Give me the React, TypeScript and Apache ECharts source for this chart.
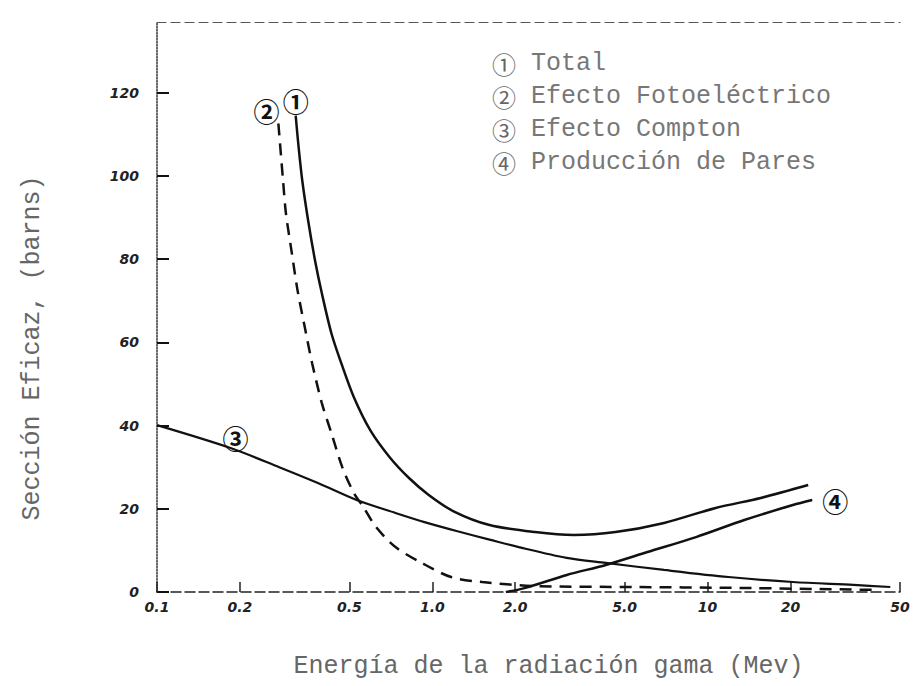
import React, { useEffect, useRef } from "react";
import * as echarts from "echarts";

// ---- Data ----
const energyTicks = [0.1, 0.2, 0.5, 1, 2, 5, 10, 20, 50];
const energyTickLabels = ["0.1", "0.2", "0.5", "1.0", "2.0", "5.0", "10", "20", "50"];
const sectionTicks = [0, 20, 40, 60, 80, 100, 120];

const seriesNames = ["Total", "Efecto Fotoeléctrico", "Efecto Compton", "Producción de Pares"];
const seriesMarks = ["①", "②", "③", "④"];

// (1) Total
const totalE = [0.319, 0.327, 0.337, 0.354, 0.375, 0.397, 0.43, 0.467, 0.519, 0.595, 0.7, 0.823, 0.968, 1.195, 1.614, 2.36, 3.27, 4.63, 6.95, 10.7, 15.6, 23.2];
const totalV = [114.5, 106.8, 98.9, 89.3, 79.7, 71.8, 62.2, 55.0, 46.8, 38.9, 32.4, 27.4, 23.4, 19.4, 16.1, 14.4, 13.7, 14.4, 16.6, 20.2, 22.6, 25.7];

// (2) Efecto Fotoeléctrico
const photoE = [0.276, 0.287, 0.294, 0.309, 0.324, 0.346, 0.366, 0.397, 0.43, 0.471, 0.519, 0.562, 0.625, 0.735, 0.915, 1.17, 1.52, 2.42, 5.44, 12.2, 41];
const photoV = [112.6, 98.9, 91.0, 81.4, 72.5, 62.9, 55.0, 45.4, 38.2, 30.0, 23.8, 20.4, 15.6, 10.8, 7.0, 3.6, 2.4, 1.4, 1.2, 1.0, 0.5];

// (3) Efecto Compton
const comptonE = [0.1, 0.185, 0.278, 0.384, 0.531, 0.735, 0.937, 1.235, 1.614, 2.06, 3.08, 4.27, 6.95, 11.9, 20.4, 33.9, 46.1];
const comptonV = [40.1, 34.6, 30.0, 26.2, 22.1, 19.0, 16.8, 14.6, 12.6, 10.8, 8.2, 7.0, 5.3, 3.6, 2.4, 1.7, 1.2];

// (4) Producción de Pares
const pairE = [1.85, 2.18, 3.08, 4.27, 6.05, 9.08, 13.6, 20.4, 24.0];
const pairV = [0, 1.0, 4.1, 6.5, 9.6, 13.2, 17.3, 20.9, 22.1];

const MONO = "'Liberation Mono', 'DejaVu Sans Mono', monospace";
const CIRC = "'Noto Sans CJK JP', 'DejaVu Sans', sans-serif";

function buildData(E: number[], V: number[], labelIndex: number, label: any) {
  return E.map((e, i) =>
    i === labelIndex
      ? { value: [e, V[i]], label: { show: true, ...label } }
      : { value: [e, V[i]] }
  );
}

const markLabel = (text: string, extra: any) => ({
  formatter: text,
  fontFamily: CIRC,
  fontSize: 26,
  fontWeight: "bold",
  color: "#111",
  ...extra,
});

export default function App() {
  const ref = useRef<HTMLDivElement>(null);

  useEffect(() => {
    if (!ref.current) return;
    const chart = echarts.init(ref.current, null, { renderer: "svg" });

    const tickLabel = (v: number) => {
      const i = energyTicks.findIndex((t) => Math.abs(t - v) / t < 1e-6);
      return i >= 0 ? energyTickLabels[i] : "";
    };

    const baseLine = {
      type: "line",
      smooth: 0.3,
      symbol: "circle",
      symbolSize: 0,
      showSymbol: true,
      silent: true,
      itemStyle: { color: "#111" },
      emphasis: { disabled: true },
    };

    chart.setOption({
      animation: false,
      backgroundColor: "#fff",
      grid: { left: 157, right: 17, top: 22, bottom: 94 },
      legend: {
        show: true,
        orient: "vertical",
        left: 482,
        top: 46,
        icon: "none",
        itemWidth: 0,
        itemHeight: 10,
        itemGap: 8,
        selectedMode: false,
        data: seriesNames,
        formatter: (name: string) => {
          const i = seriesNames.indexOf(name);
          return `{n|${seriesMarks[i]}}{t| ${name}}`;
        },
        textStyle: {
          color: "#777",
          rich: {
            n: { fontFamily: CIRC, fontSize: 24, color: "#666", lineHeight: 25 },
            t: { fontFamily: MONO, fontSize: 25, color: "#777", lineHeight: 25 },
          },
        },
      },
      xAxis: [
        {
          type: "log",
          logBase: 10,
          min: 0.1,
          max: 50,
          position: "bottom",
          name: "Energía de la radiación gama (Mev)",
          nameLocation: "middle",
          nameGap: 62,
          nameTextStyle: {
            fontFamily: MONO,
            fontSize: 25,
            color: "#666",
            padding: [0, 0, 0, 40],
          },
          axisLine: { show: true, lineStyle: { color: "#222", width: 1.5, type: [10, 4] } },
          axisTick: {
            show: true,
            inside: true,
            length: 10,
            customValues: energyTicks,
            lineStyle: { color: "#222", width: 1.5 },
          },
          minorTick: { show: false },
          axisLabel: {
            customValues: energyTicks,
            formatter: tickLabel,
            fontFamily: "'DejaVu Sans', sans-serif",
            fontStyle: "italic",
            fontWeight: "bold",
            fontSize: 14,
            color: "#222",
            margin: 8,
          },
          splitLine: { show: false },
        },
        {
          type: "log",
          logBase: 10,
          min: 0.1,
          max: 50,
          position: "top",
          axisLine: { show: true, lineStyle: { color: "#555", width: 1.2, type: [9, 5] } },
          axisTick: { show: false },
          axisLabel: { show: false },
          splitLine: { show: false },
        },
      ],
      yAxis: {
        type: "value",
        min: 0,
        max: 137,
        name: "Sección Eficaz, (barns)",
        nameLocation: "middle",
        nameGap: 112,
        nameTextStyle: {
          fontFamily: MONO,
          fontSize: 25,
          color: "#666",
          padding: [0, 82, 0, 0],
        },
        axisLine: { show: true, lineStyle: { color: "#333", width: 1.5, type: "dotted" } },
        axisTick: {
          show: true,
          inside: true,
          length: 12,
          customValues: sectionTicks,
          lineStyle: { color: "#111", width: 2 },
        },
        axisLabel: {
          customValues: sectionTicks,
          fontFamily: "'DejaVu Sans', sans-serif",
          fontStyle: "italic",
          fontWeight: "bold",
          fontSize: 14,
          color: "#222",
          margin: 18,
        },
        splitLine: { show: false },
      },
      series: [
        {
          ...baseLine,
          name: seriesNames[0],
          data: buildData(totalE, totalV, 0, markLabel(seriesMarks[0], { position: "top", distance: 2 })),
          lineStyle: { color: "#111", width: 2.5 },
        },
        {
          ...baseLine,
          name: seriesNames[1],
          data: buildData(photoE, photoV, 0, markLabel(seriesMarks[1], { position: "top", distance: 0, offset: [-12, 0] })),
          lineStyle: { color: "#111", width: 2.5, type: [12, 8] },
        },
        {
          ...baseLine,
          name: seriesNames[2],
          data: buildData(comptonE, comptonV, 1, markLabel(seriesMarks[2], { position: "top", distance: -2, offset: [5, 0] })),
          lineStyle: { color: "#111", width: 2.2 },
        },
        {
          ...baseLine,
          name: seriesNames[3],
          data: buildData(pairE, pairV, pairE.length - 1, markLabel(seriesMarks[3], { position: "right", distance: 10 })),
          lineStyle: { color: "#111", width: 2.5 },
        },
      ],
    });

    return () => chart.dispose();
  }, []);

  return (
    <div
      ref={ref}
      style={{ position: "fixed", left: 0, top: 0, width: 917, height: 686, background: "#fff" }}
    />
  );
}
